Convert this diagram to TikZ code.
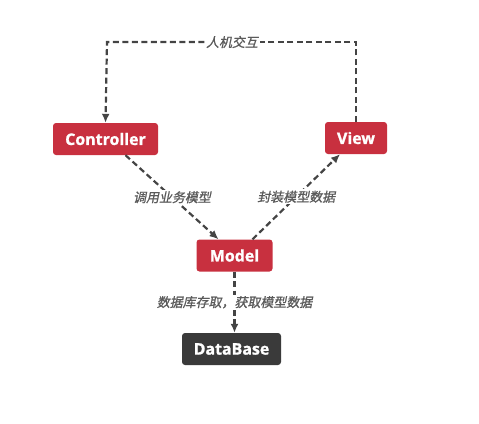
\documentclass[tikz,border=0pt]{standalone}
\usepackage{fontspec}
\setsansfont[BoldFeatures={FakeBold=1.2}]{Open Sans}
\newfontfamily\cjk[FakeSlant=0.2,FakeBold=1]{Noto Sans CJK SC}
\usetikzlibrary{arrows.meta}
\definecolor{boxred}{HTML}{C8303F}
\definecolor{boxdark}{HTML}{3A3A3A}
\definecolor{linegray}{HTML}{444444}
\definecolor{labgray}{HTML}{5A5A5A}
\tikzset{
  mvcbox/.style={fill=boxred, rounded corners=3bp, text=white, font=\sffamily\bfseries\fontsize{16}{18}\selectfont, inner sep=0pt, minimum height=32bp, draw=none},
  dbbox/.style={mvcbox, fill=boxdark},
  conn/.style={draw=linegray, line width=2.2bp, dash pattern=on 6bp off 3.5bp, -{Latex[length=9bp,width=8bp]}},
  plainconn/.style={draw=linegray, line width=2.2bp, dash pattern=on 6bp off 3.5bp},
  lab/.style={text=labgray, font=\cjk\fontsize{13}{15}\selectfont, inner sep=1.5bp}
}
\begin{document}
\begin{tikzpicture}[x=1bp,y=-1bp]
\useasboundingbox (0,0) rectangle (479,423);
\node[mvcbox, minimum width=105bp] (ctrl) at (105.5,139) {Controller};
\node[mvcbox, minimum width=62bp] (view) at (356,138) {View};
\node[mvcbox, minimum width=76bp] (model) at (234.5,255.5) {Model};
\node[dbbox, minimum width=99bp] (db) at (231.5,349) {DataBase};
\coordinate (tl) at (107,42);
\coordinate (tr) at (356,42);
\node[lab, fill=white] (hci) at (232,42) {人机交互};
\draw[plainconn] (view.north) -- (tr) -- (hci.east);
\draw[conn] (hci.west) -- (tl) -- (ctrl.north);
\draw[conn] ([xshift=20bp]ctrl.south) -- node[lab, fill=white, pos=0.5] (l1) {调用业务模型} ([xshift=-16bp]model.north);
\draw[conn] ([xshift=18bp]model.north) -- node[lab, fill=white, pos=0.5] (l2) {封装模型数据} ([xshift=-16bp]view.south);
\draw[conn] (model.south) -- node[lab, fill=white, pos=0.5] (l3) {数据库存取，获取模型数据} (model.south |- db.north);
\end{tikzpicture}
\end{document}
